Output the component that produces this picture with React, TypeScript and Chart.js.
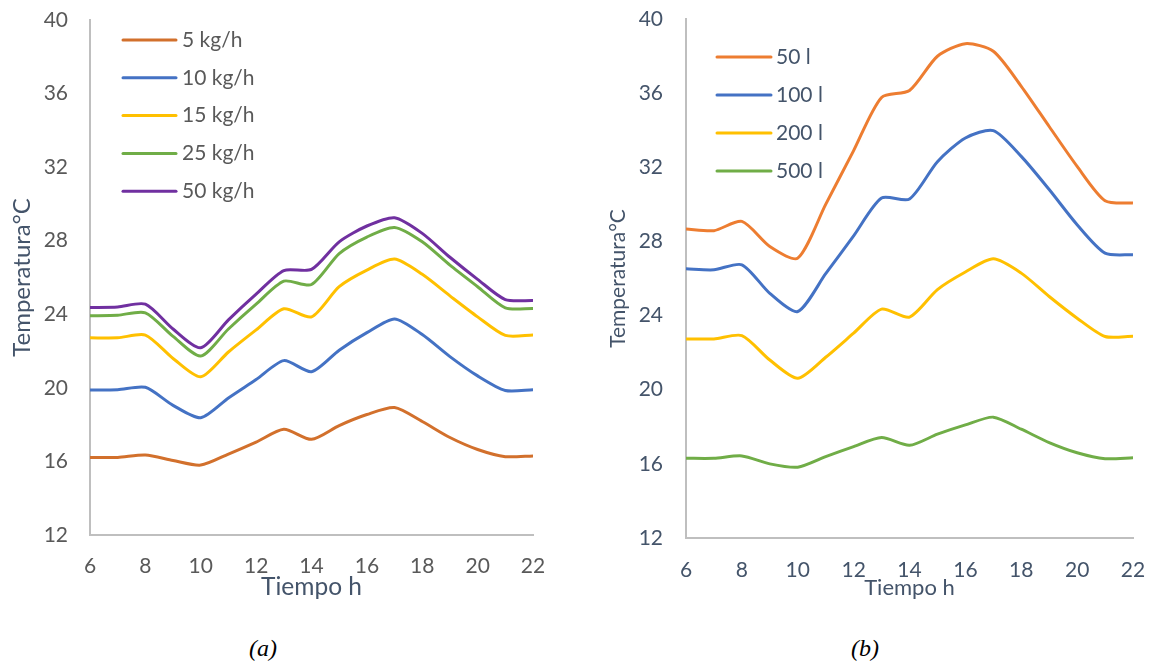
import React, { useEffect, useRef } from "react";
import { Chart, registerables } from "chart.js";
Chart.register(...registerables);

// ---- data ----
const hours = [6, 7, 8, 9, 10, 11, 12, 13, 14, 15, 16, 17, 18, 19, 20, 21, 22];
const xTickValues = [6, 8, 10, 12, 14, 16, 18, 20, 22];
const yTickValues = [12, 16, 20, 24, 28, 32, 36, 40];

const labelsA = ["5 kg/h", "10 kg/h", "15 kg/h", "25 kg/h", "50 kg/h"];
const kg5 = [16.22, 16.22, 16.35, 16.05, 15.8, 16.4, 17.05, 17.75, 17.2, 17.95, 18.55, 18.93, 18.17, 17.3, 16.65, 16.26, 16.3];
const kg10 = [19.88, 19.9, 20.03, 19.05, 18.38, 19.45, 20.45, 21.48, 20.88, 22.05, 23.0, 23.75, 22.9, 21.7, 20.65, 19.86, 19.9];
const kg15 = [22.72, 22.72, 22.87, 21.6, 20.6, 21.95, 23.15, 24.3, 23.86, 25.5, 26.4, 27.0, 26.17, 25.0, 23.86, 22.85, 22.87];
const kg25 = [23.92, 23.95, 24.08, 22.8, 21.73, 23.2, 24.55, 25.8, 25.62, 27.3, 28.2, 28.72, 27.94, 26.67, 25.5, 24.35, 24.32];
const kg50 = [24.37, 24.4, 24.55, 23.2, 22.18, 23.7, 25.1, 26.38, 26.44, 27.94, 28.8, 29.25, 28.4, 27.1, 25.9, 24.8, 24.75];
const colorsA = ["#D2702C", "#4472C4", "#FFC000", "#70AD47", "#7030A0"];

const labelsB = ["50 l", "100 l", "200 l", "500 l"];
const l50 = [28.67, 28.58, 29.08, 27.73, 27.1, 30.0, 32.9, 35.77, 36.14, 37.99, 38.67, 38.26, 36.37, 34.2, 32.05, 30.2, 30.07];
const l100 = [26.52, 26.47, 26.74, 25.2, 24.22, 26.26, 28.3, 30.34, 30.29, 32.3, 33.58, 33.98, 32.59, 30.8, 28.9, 27.37, 27.28];
const l200 = [22.74, 22.74, 22.92, 21.6, 20.62, 21.75, 23.05, 24.35, 23.92, 25.4, 26.35, 27.06, 26.29, 25.03, 23.86, 22.87, 22.88];
const l500 = [16.3, 16.3, 16.43, 16.0, 15.82, 16.39, 16.93, 17.42, 17.0, 17.6, 18.1, 18.52, 17.87, 17.15, 16.6, 16.28, 16.33];
const colorsB = ["#ED7D31", "#4472C4", "#FFC000", "#70AD47"];

const FONT = "Lato, 'Open Sans', sans-serif";

const inlineLegend = {
  id: "inlineLegend",
  afterDraw(chart: any, _a: any, opts: any) {
    const { ctx, chartArea } = chart;
    ctx.save();
    chart.data.datasets.forEach((ds: any, i: number) => {
      const y = chartArea.top + opts.top + i * opts.gap;
      ctx.strokeStyle = ds.borderColor;
      ctx.lineWidth = 3;
      ctx.lineCap = "round";
      ctx.beginPath();
      ctx.moveTo(chartArea.left + opts.x0, y);
      ctx.lineTo(chartArea.left + opts.x1, y);
      ctx.stroke();
      ctx.fillStyle = opts.color;
      ctx.font = opts.font;
      ctx.textBaseline = "middle";
      ctx.textAlign = "left";
      ctx.fillText(ds.label, chartArea.left + opts.tx, y);
    });
    ctx.restore();
  },
};

function makeConfig(p: any) {
  return {
    type: "line",
    data: {
      datasets: p.series.map((vals: number[], i: number) => ({
        label: p.labels[i],
        data: hours.map((h, j) => ({ x: h, y: vals[j] })),
        borderColor: p.colors[i],
        backgroundColor: p.colors[i],
        borderWidth: 3,
        pointRadius: 0,
        tension: 0.25,
        fill: false,
      })),
    },
    options: {
      responsive: false,
      animation: false,
      layout: { padding: { top: p.top, right: p.right, bottom: 0, left: 0 } },
      plugins: {
        legend: { display: false },
        tooltip: { enabled: false },
        inlineLegend: p.legend,
      },
      scales: {
        x: {
          type: "linear",
          min: 6,
          max: 22,
          grid: { display: false, drawTicks: false },
          border: { display: true, color: "#BFBFBF", width: 2 },
          afterBuildTicks: (s: any) => { s.ticks = xTickValues.map((v) => ({ value: v })); },
          afterFit: (s: any) => {
            s.height = p.xHeight;
            s.paddingLeft = 0;
            s.paddingRight = 0;
          },
          ticks: { color: p.tickColor, font: { family: FONT, size: 21 }, padding: p.xPad, maxRotation: 0 },
          title: {
            display: true,
            text: "Tiempo h",
            color: "#44546A",
            font: { family: FONT, size: p.xTitleSize },
            padding: { top: 0, bottom: p.xTitlePad },
          },
        },
        y: {
          min: 12,
          max: 40,
          grid: { display: false, drawTicks: false },
          border: { display: true, color: "#BFBFBF", width: 2 },
          afterBuildTicks: (s: any) => { s.ticks = yTickValues.map((v) => ({ value: v })); },
          afterFit: (s: any) => {
            s.width = p.yWidth;
            s.paddingTop = 0;
            s.paddingBottom = 0;
          },
          ticks: { color: p.tickColor, font: { family: FONT, size: 21 }, padding: p.yPad },
          title: {
            display: true,
            text: "Temperatura°C",
            color: "#44546A",
            font: { family: FONT, size: p.yTitleSize },
            padding: { top: p.yTitlePad, bottom: 0 },
          },
        },
      },
    },
    plugins: [inlineLegend],
  } as any;
}

function ChartBox(props: { left: number; width: number; cfg: any }) {
  const ref = useRef<HTMLCanvasElement | null>(null);
  useEffect(() => {
    if (!ref.current) return;
    const c = new Chart(ref.current, props.cfg);
    return () => c.destroy();
  }, []);
  return (
    <canvas
      ref={ref}
      width={props.width}
      height={610}
      style={{ position: "absolute", left: props.left, top: 0, width: props.width, height: 610 }}
    />
  );
}

const cfgA = makeConfig({
  series: [kg5, kg10, kg15, kg25, kg50],
  labels: labelsA,
  colors: colorsA,
  top: 20,
  right: 27,
  xHeight: 75,
  yWidth: 90,
  xPad: 19,
  yPad: 22,
  xTitleSize: 24.5,
  xTitlePad: 8.3,
  yTitleSize: 24,
  yTitlePad: 7.6,
  tickColor: "#595959",
  legend: { x0: 33, x1: 86, tx: 92, top: 20, gap: 37.8, color: "#595959", font: `21px ${FONT}` },
});

const cfgB = makeConfig({
  series: [l50, l100, l200, l500],
  labels: labelsB,
  colors: colorsB,
  top: 19,
  right: 20,
  xHeight: 72,
  yWidth: 106,
  xPad: 19.4,
  yPad: 23,
  xTitleSize: 22,
  xTitlePad: 8.8,
  yTitleSize: 21,
  yTitlePad: 25.4,
  tickColor: "#44546A",
  legend: { x0: 31, x1: 85, tx: 90, top: 38, gap: 38, color: "#44546A", font: `21px ${FONT}` },
});

export default function App() {
  const cap: React.CSSProperties = {
    position: "absolute",
    top: 648,
    transform: "translate(-50%, -50%)",
    fontFamily: "'Liberation Serif', 'Times New Roman', serif",
    fontStyle: "italic",
    fontSize: 24,
    color: "#000",
  };
  return (
    <div style={{ position: "absolute", left: 0, top: 0, width: 1153, height: 663, background: "#fff" }}>
      <ChartBox left={0} width={560} cfg={cfgA} />
      <ChartBox left={580} width={573} cfg={cfgB} />
      <span style={{ ...cap, left: 263 }}>(a)</span>
      <span style={{ ...cap, left: 865 }}>(b)</span>
    </div>
  );
}
